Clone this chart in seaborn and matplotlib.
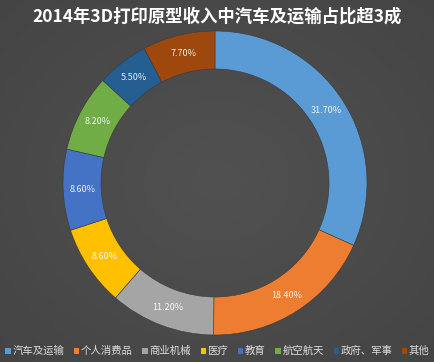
import numpy as np
import seaborn as sns
import matplotlib.pyplot as plt
from matplotlib.patches import Patch

# data
categories = ["汽车及运输", "个人消费品", "商业机械", "医疗", "教育", "航空航天", "政府、军事", "其他"]
shares = [31.7, 18.4, 11.2, 8.6, 8.6, 8.2, 5.5, 7.7]
colors = ["#5B9BD5", "#ED7D31", "#A5A5A5", "#FFC000", "#4472C4", "#70AD47", "#255E91", "#9E480E"]
title = "2014年3D打印原型收入中汽车及运输占比超3成"

sns.set_theme(style="dark")
plt.rcParams["font.family"] = ["Noto Sans CJK SC", "DejaVu Sans"]

fig = plt.figure(figsize=(4.35, 3.62), dpi=100)
fig.patch.set_facecolor("#474747")

# soft radial background
bg = fig.add_axes([0, 0, 1, 1])
yy, xx = np.mgrid[-1:1:200j, -1:1:200j]
rr = np.sqrt(xx ** 2 + yy ** 2)
bg.imshow(rr, cmap=sns.blend_palette(["#515151", "#444444"], as_cmap=True),
          extent=[0, 1, 0, 1], aspect="auto", vmin=0, vmax=1.45)
bg.axis("off")

ax = fig.add_axes([0.1448, 0.0746, 0.6989, 0.8398])
wedges, _ = ax.pie(
    shares, colors=colors, startangle=90, counterclock=False, radius=1,
    wedgeprops=dict(width=0.25, linewidth=0.4, edgecolor="#3a3a3a"),
)
# labels with the read values
for w, v in zip(wedges, shares):
    ang = np.deg2rad((w.theta1 + w.theta2) / 2)
    ax.text(0.875 * np.cos(ang), 0.875 * np.sin(ang), f"{v:.2f}%",
            ha="center", va="center", color="white", fontsize=6.5, alpha=0.9)
ax.set_xlim(-1, 1)
ax.set_ylim(-1, 1)
ax.set_aspect("equal")
ax.axis("off")

fig.text(0.5, 0.953, title, ha="center", va="center", color="white",
         fontsize=12.5, fontweight="bold")

handles = [Patch(facecolor=c, edgecolor="none") for c in colors]
leg = fig.legend(handles, categories, loc="center", bbox_to_anchor=(0.5, 0.03),
                 ncol=8, frameon=False, fontsize=7.5, handlelength=0.5, handleheight=0.5,
                 handletextpad=0.15, columnspacing=0.95, borderaxespad=0)
for t in leg.get_texts():
    t.set_color("#dddddd")

fig.savefig("out.png", dpi=100, facecolor=fig.get_facecolor())
